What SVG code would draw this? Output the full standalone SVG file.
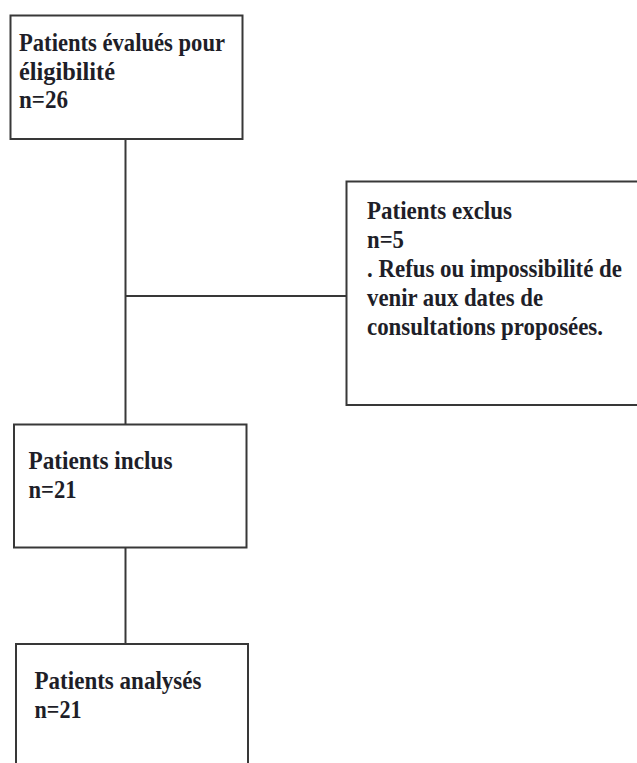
<svg xmlns="http://www.w3.org/2000/svg" width="637" height="763" viewBox="0 0 637 763">
<style>
.box{fill:#ffffff;stroke:#383838;stroke-width:2}
.con{fill:none;stroke:#383838;stroke-width:2}
.t{font-family:"Liberation Serif","Times New Roman",serif;font-weight:bold;font-size:24.5px;fill:#1e1e28}
</style>
<rect width="637" height="763" fill="#ffffff"/>
<g id="connectors">
<line class="con" x1="125.5" y1="139" x2="125.5" y2="424.5"/>
<line class="con" x1="125.5" y1="296" x2="346.5" y2="296"/>
<line class="con" x1="125.5" y1="547.5" x2="125.5" y2="644"/>
</g>
<g id="node-evalues">
<rect class="box" x="10.5" y="15.5" width="232" height="123.5"/>
<text class="t" x="19" y="51" textLength="206" lengthAdjust="spacingAndGlyphs">Patients évalués pour</text>
<text class="t" x="19" y="79.5" textLength="96" lengthAdjust="spacingAndGlyphs">éligibilité</text>
<text class="t" x="19" y="108" textLength="49" lengthAdjust="spacingAndGlyphs">n=26</text>
</g>
<g id="node-exclus">
<rect class="box" x="346.5" y="181.5" width="300" height="223.5"/>
<text class="t" x="367" y="218.5" textLength="145" lengthAdjust="spacingAndGlyphs">Patients exclus</text>
<text class="t" x="367" y="247.5" textLength="37" lengthAdjust="spacingAndGlyphs">n=5</text>
<text class="t" x="367" y="276.5" textLength="255" lengthAdjust="spacingAndGlyphs">. Refus ou impossibilité de</text>
<text class="t" x="367" y="305.5" textLength="176" lengthAdjust="spacingAndGlyphs">venir aux dates de</text>
<text class="t" x="367" y="334.5" textLength="236" lengthAdjust="spacingAndGlyphs">consultations proposées.</text>
</g>
<g id="node-inclus">
<rect class="box" x="14" y="424.5" width="232.5" height="123"/>
<text class="t" x="28.5" y="469" textLength="144" lengthAdjust="spacingAndGlyphs">Patients inclus</text>
<text class="t" x="28.5" y="498" textLength="48" lengthAdjust="spacingAndGlyphs">n=21</text>
</g>
<g id="node-analyses">
<rect class="box" x="16" y="644" width="232" height="140"/>
<text class="t" x="34.5" y="689" textLength="167" lengthAdjust="spacingAndGlyphs">Patients analysés</text>
<text class="t" x="34.5" y="718" textLength="47" lengthAdjust="spacingAndGlyphs">n=21</text>
</g>
</svg>
